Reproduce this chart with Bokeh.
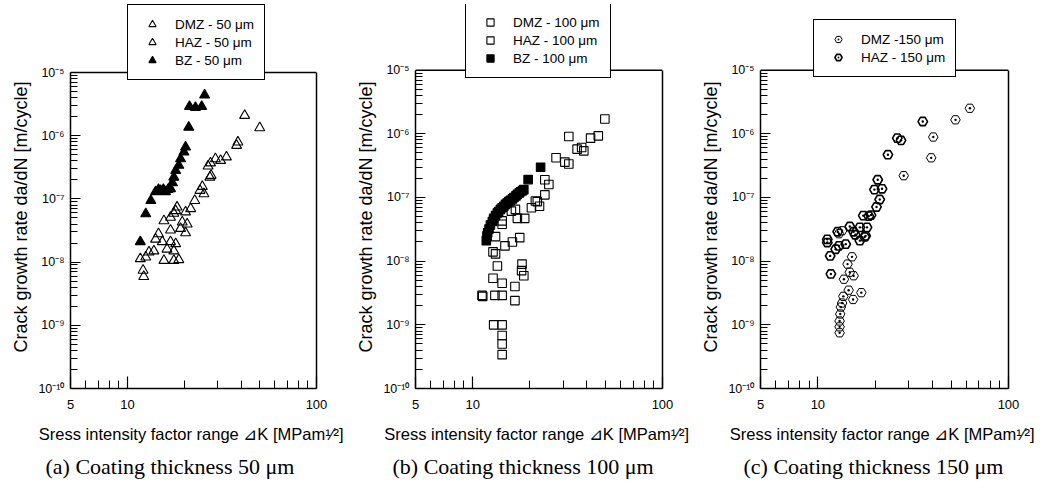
from bokeh.plotting import figure
from bokeh.layouts import row
from bokeh.models import (Range1d, FixedTicker, CustomJSTickFormatter, Legend, LegendItem, Title,
                          LogAxis, Span)
from bokeh.embed import file_html
from bokeh.resources import INLINE

# ---------------- data (ΔK in MPa·m^1/2, da/dN in m/cycle) ----------------
# (a) 50 µm
a_bz_k = [11.7, 12.5, 13.3, 14.1, 14.6, 15.0, 15.5, 15.9, 16.4, 16.9, 17.3, 17.6, 18.0, 18.7,
          19.1, 19.9, 20.3, 21.1, 21.3, 22.9, 24.7, 25.6]
a_bz_v = [2.1e-8, 5.8e-8, 9.4e-8, 1.3e-7, 1.4e-7, 1.35e-7, 1.4e-7, 1.3e-7, 1.4e-7, 1.45e-7, 1.8e-7,
          2.2e-7, 2.8e-7, 3.4e-7, 4.3e-7, 5.5e-7, 6.6e-7, 1.36e-6, 2.9e-6, 2.8e-6, 2.9e-6, 4.4e-6]
a_haz_k = [41.7, 50.1, 38.4, 37.8, 33.4, 31.1, 29.2, 27.5, 26.7, 27.7, 27.3, 24.9, 24.2, 25.4,
           22.7, 21.6, 18.3, 18.0, 20.3, 17.6, 16.9, 19.5, 20.7]
a_haz_v = [2.09e-6, 1.33e-6, 7.9e-7, 7.0e-7, 4.6e-7, 4.05e-7, 4.3e-7, 3.7e-7, 3.3e-7, 2.35e-7, 2.2e-7,
           1.57e-7, 1.36e-7, 1.2e-7, 9.4e-8, 7.0e-8, 7.4e-8, 6.5e-8, 6.2e-8, 5.9e-8, 5.1e-8, 4.3e-8, 4.0e-8]
a_dmz_k = [15.6, 19.1, 20.3, 16.9, 14.6, 14.1, 15.3, 16.9, 18.0, 17.6, 16.2, 13.8, 13.0, 12.5,
           11.7, 15.6, 17.6, 18.7, 12.1, 12.2]
a_dmz_v = [4.5e-8, 3.4e-8, 2.9e-8, 3.2e-8, 2.8e-8, 2.3e-8, 2.1e-8, 2.1e-8, 1.95e-8, 1.5e-8, 1.6e-8,
           1.5e-8, 1.44e-8, 1.2e-8, 1.13e-8, 1.06e-8, 1.06e-8, 1.09e-8, 7.4e-9, 5.9e-9]

# (b) 100 µm
b_bz_k = [11.8, 11.9, 12.0, 12.2, 12.4, 12.7, 12.9, 13.2, 13.5, 13.7, 14.0, 14.3, 14.6, 14.9,
          15.2, 15.5, 15.8, 16.2, 16.5, 16.9, 17.2, 17.6, 17.9, 18.3, 18.6, 19.6, 22.8]
b_bz_v = [2.1e-8, 2.5e-8, 2.8e-8, 3.2e-8, 3.7e-8, 4.2e-8, 4.7e-8, 5.2e-8, 5.7e-8, 6.0e-8, 6.5e-8,
          6.9e-8, 7.3e-8, 7.8e-8, 8.2e-8, 8.6e-8, 9.0e-8, 9.5e-8, 1.0e-7, 1.06e-7, 1.12e-7, 1.18e-7,
          1.23e-7, 1.28e-7, 1.33e-7, 1.91e-7, 2.98e-7]
b_haz_k = [49.7, 32.1, 45.9, 41.8, 37.5, 38.5, 35.5, 27.5, 32.1, 30.6, 24.0, 25.2, 24.0, 21.4,
           21.9, 22.5, 20.4, 16.8, 16.0, 17.2, 18.8, 14.3]
b_haz_v = [1.71e-6, 9.1e-7, 9.3e-7, 8.55e-7, 6.1e-7, 5.4e-7, 5.75e-7, 4.2e-7, 3.36e-7, 3.6e-7, 1.9e-7,
           1.6e-7, 1.1e-7, 8.8e-8, 8.6e-8, 7.3e-8, 6.9e-8, 6.5e-8, 6.1e-8, 4.7e-8, 4.7e-8, 4.3e-8]
b_dmz_k = [14.3, 13.2, 17.7, 16.2, 14.8, 12.8, 13.2, 13.5, 18.2, 18.1, 18.6, 12.8, 14.3, 16.7,
           11.2, 11.3, 13.1, 14.3, 16.7, 12.9, 14.3, 14.3, 14.3, 14.3]
b_dmz_v = [3.8e-8, 2.43e-8, 2.34e-8, 2.0e-8, 1.74e-8, 1.4e-8, 1.3e-8, 8.4e-9, 9.0e-9, 7.1e-9, 5.9e-9,
           5.4e-9, 4.5e-9, 4.0e-9, 2.9e-9, 2.8e-9, 2.9e-9, 2.9e-9, 2.4e-9, 1.0e-9, 1.0e-9, 6.8e-10,
           5.0e-10, 3.4e-10]

# (c) 150 µm
c_dmz_k = [62.7, 52.7, 40.3, 39.3, 28.2, 15.1, 14.3, 14.7, 15.4, 13.7, 14.5, 16.9, 13.6, 15.3,
           13.4, 13.2, 13.1, 13.0, 13.0, 13.0, 12.9, 13.4]
c_dmz_v = [2.52e-6, 1.66e-6, 8.9e-7, 4.2e-7, 2.2e-7, 1.17e-8, 9.0e-9, 6.7e-9, 5.9e-9, 5.2e-9, 3.5e-9,
           3.2e-9, 2.8e-9, 2.5e-9, 2.2e-9, 1.9e-9, 1.48e-9, 1.15e-9, 9.3e-10, 7.5e-10, 2.7e-8, 3.0e-8]
c_haz_k = [35.5, 26.1, 27.3, 23.3, 20.6, 19.8, 21.7, 21.1, 20.3, 17.3, 18.5, 19.0, 18.1, 16.6,
           14.7, 12.7, 15.4, 17.8, 11.2, 11.2, 14.0, 12.9, 12.4, 11.6, 11.7, 16.6, 15.7, 17.6]
c_haz_v = [1.56e-6, 8.55e-7, 7.9e-7, 4.7e-7, 1.9e-7, 1.33e-7, 1.37e-7, 9.3e-8, 7.1e-8, 5.2e-8, 5.1e-8,
           5.3e-8, 3.4e-8, 3.4e-8, 3.5e-8, 2.9e-8, 2.9e-8, 2.5e-8, 2.2e-8, 1.96e-8, 1.85e-8, 1.74e-8,
           1.54e-8, 1.21e-8, 6.3e-9, 2.1e-8, 2.6e-8, 2.4e-8]

x_ticks = [5, 10, 100]
x_minor = [6, 7, 8, 9, 20, 30, 40, 50, 60, 70, 80, 90]
y_ticks = [1e-10, 1e-9, 1e-8, 1e-7, 1e-6, 1e-5]
y_minor = [m * 10.0 ** e for e in range(-10, -5) for m in range(2, 10)]
Y_MIN, Y_MAX = 1e-10, 1e-5

SANS = "Liberation Sans"
SERIF = "Liberation Serif"
X_LABEL = "Sress intensity factor range \u22bfK  [MPam\u00b9\u2044\u00b2]"
Y_LABEL = "Crack growth rate da/dN  [m/cycle]"

yfmt_code = """
const e = Math.round(Math.log10(tick));
const sup = {"-": "\u207b", "0": "\u2070", "1": "\u00b9", "2": "\u00b2", "3": "\u00b3",
             "4": "\u2074", "5": "\u2075", "6": "\u2076", "7": "\u2077", "8": "\u2078", "9": "\u2079"};
return "10" + String(e).split("").map(c => sup[c]).join("");
"""
xfmt_code = "return String(Math.round(tick));"

H = 488
TOP = 4  # frame starts here; the part above 1e-5 only holds the legend


def make_panel(width, border_right, axis_top, axis_h, series, legend_loc, legend_pad,
               caption, caption_offset):
    frame_h = axis_top + axis_h - TOP
    decades_above = (axis_top - TOP) / (axis_h / 5.0)
    y_top = Y_MAX * 10 ** decades_above
    p = figure(width=width, height=H, x_axis_type="log", y_axis_type="log",
               x_range=Range1d(5, 100), y_range=Range1d(Y_MIN, y_top),
               output_backend="svg", toolbar_location=None,
               min_border_left=70, min_border_right=border_right,
               min_border_top=TOP, min_border_bottom=H - TOP - frame_h)
    p.grid.visible = False
    p.outline_line_color = None

    xa = p.xaxis[0]
    xa.ticker = FixedTicker(ticks=x_ticks, minor_ticks=x_minor)
    xa.formatter = CustomJSTickFormatter(code=xfmt_code)
    xa.major_tick_in = 12
    xa.major_tick_out = 0
    xa.minor_tick_in = 8
    xa.minor_tick_out = 0
    xa.major_label_standoff = 11
    xa.major_label_text_font_size = "13px"
    xa.axis_label = X_LABEL
    xa.axis_label_standoff = 13
    xa.axis_label_text_font_size = "16.5px"

    ya = p.yaxis[0]
    ya.bounds = (Y_MIN, Y_MAX)
    ya.ticker = FixedTicker(ticks=y_ticks, minor_ticks=y_minor)
    ya.formatter = CustomJSTickFormatter(code=yfmt_code)
    ya.major_tick_in = 10
    ya.major_tick_out = 0
    ya.minor_tick_in = 7
    ya.minor_tick_out = 0
    ya.major_label_standoff = 6
    ya.major_label_text_font_size = "12.5px"

    for ax in (xa, ya):
        ax.axis_line_color = "black"
        ax.axis_line_width = 1.5
        ax.major_tick_line_color = "black"
        ax.minor_tick_line_color = "black"
        ax.major_tick_line_width = 1.2
        ax.minor_tick_line_width = 1.0
        ax.major_label_text_font = SANS
        ax.major_label_text_color = "black"
        ax.axis_label_text_font = SANS
        ax.axis_label_text_font_style = "normal"
        ax.axis_label_text_color = "black"

    # right edge of the box
    ra = LogAxis(bounds=(Y_MIN, Y_MAX), ticker=FixedTicker(ticks=[]),
                 axis_line_color="black", axis_line_width=1.5,
                 major_tick_line_color=None, minor_tick_line_color=None,
                 major_label_text_font_size="0px")
    p.add_layout(ra, "right")
    # top edge of the box at 1e-5
    p.add_layout(Span(location=Y_MAX, dimension="width", line_color="black", line_width=1.5))

    # y label as a rotated title on the left, starting 36px above the frame bottom
    p.add_layout(Title(text=Y_LABEL, align="left", offset=36, standoff=10,
                       text_font=SANS, text_font_size="18px", text_font_style="normal",
                       text_color="black"), "left")

    items = []
    for label, kx, vy, marker, size, fill, lw in series:
        r = p.scatter(kx, vy, marker=marker, size=size, line_color="black", line_width=lw,
                      fill_color=fill)
        items.append(LegendItem(label=label, renderers=[r]))

    legend = Legend(items=items, location=legend_loc, margin=0, padding=legend_pad,
                    spacing=0, glyph_width=28, glyph_height=18, label_height=18,
                    label_standoff=9,
                    border_line_color="black", border_line_width=1.5, border_line_alpha=1.0,
                    background_fill_color="white", background_fill_alpha=1.0,
                    label_text_font=SANS, label_text_font_size="13.5px", label_text_color="black")
    p.add_layout(legend)

    cap = Title(text=caption, align="left", offset=caption_offset, standoff=12,
                text_font=SERIF, text_font_size="22px", text_font_style="normal",
                text_color="black")
    p.add_layout(cap, "below")
    return p


pa = make_panel(345, 29, 72, 316, [
    ("DMZ - 50 \u03bcm", a_dmz_k, a_dmz_v, "triangle", 10, None, 1.1),
    ("HAZ - 50 \u03bcm", a_haz_k, a_haz_v, "triangle", 10, None, 1.1),
    ("BZ - 50 \u03bcm", a_bz_k, a_bz_v, "triangle", 10, "black", 1.1),
], (57, 308), 10, "(a) Coating thickness 50 \u03bcm", -25)

pb = make_panel(345, 28, 70, 320, [
    ("DMZ - 100 \u03bcm", b_dmz_k, b_dmz_v, "square", 8.5, None, 1.1),
    ("HAZ - 100 \u03bcm", b_haz_k, b_haz_v, "square", 8.5, None, 1.1),
    ("BZ - 100 \u03bcm", b_bz_k, b_bz_v, "square", 8.5, "black", 1.1),
], (50, 310), 10, "(b) Coating thickness 100 \u03bcm", -23)

pc = make_panel(354, 36, 70, 320, [
    ("DMZ -150 \u03bcm", c_dmz_k, c_dmz_v, "hex_dot", 9.5, None, 1.0),
    ("HAZ - 150 \u03bcm", c_haz_k, c_haz_v, "hex_dot", 9.5, None, 1.6),
], (53, 311), 10, "(c) Coating thickness 150 \u03bcm", -17)

layout = row(pa, pb, pc)
open("out.html", "w").write(file_html(layout, INLINE))
